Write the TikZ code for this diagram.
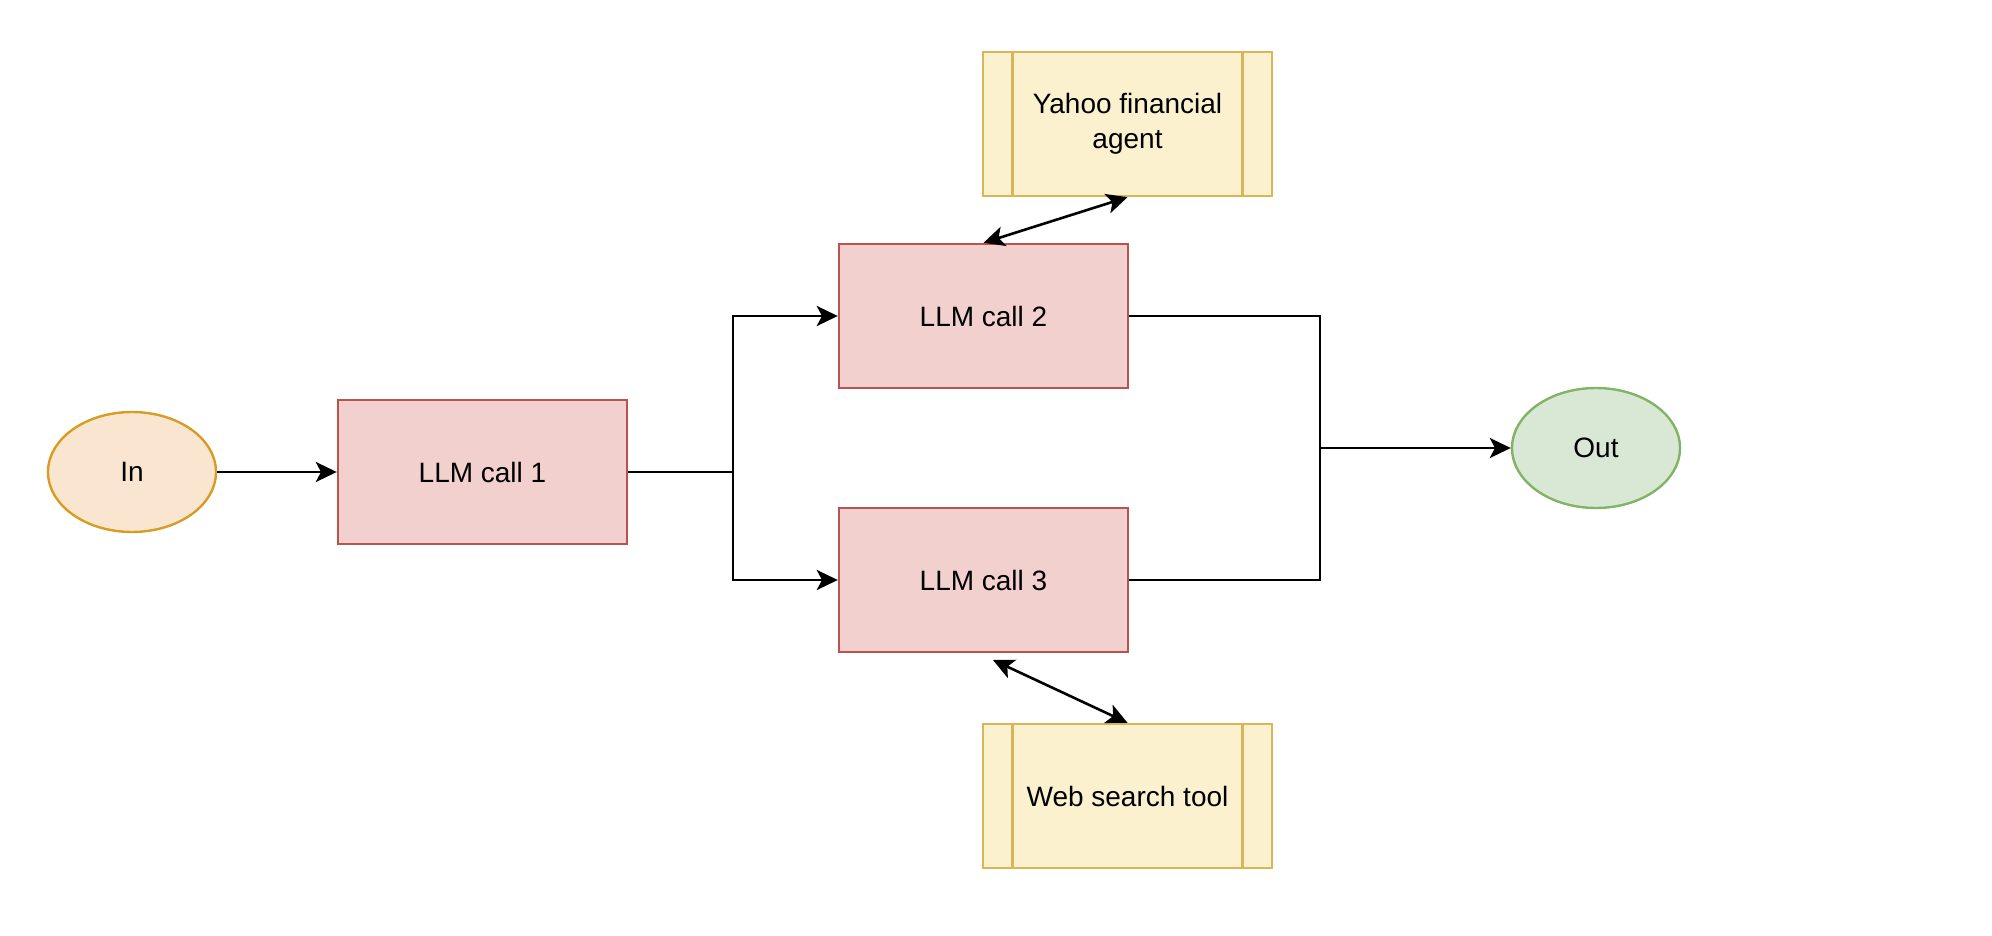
\documentclass[tikz,border=0pt]{standalone}
\usepackage{fontspec}
\setmainfont{Liberation Sans}
\usetikzlibrary{arrows.meta,shapes.geometric,calc}
\definecolor{inFill}{HTML}{FAE6D0}
\definecolor{inLine}{HTML}{D69D22}
\definecolor{llmFill}{HTML}{F2D0CE}
\definecolor{llmLine}{HTML}{B85450}
\definecolor{toolFill}{HTML}{FCF1CF}
\definecolor{toolLine}{HTML}{D6B656}
\definecolor{outFill}{HTML}{D9E7D5}
\definecolor{outLine}{HTML}{82B366}
\tikzset{
  lbl/.style={font=\fontsize{14pt}{17.5pt}\selectfont, text=black, align=center, inner sep=0pt},
  llmbox/.style={lbl, rectangle, draw=llmLine, fill=llmFill, line width=1.2pt,
    minimum width=144.5pt, minimum height=72pt},
  toolbox/.style={lbl, rectangle, draw=toolLine, fill=toolFill, line width=1.2pt,
    minimum width=144.5pt, minimum height=72pt,
    path picture={
      \draw[toolLine, line width=1.2pt]
        ([xshift=14.8pt]path picture bounding box.north west) -- ([xshift=14.8pt]path picture bounding box.south west)
        ([xshift=-14.8pt]path picture bounding box.north east) -- ([xshift=-14.8pt]path picture bounding box.south east);
    }},
  termin/.style={lbl, ellipse, line width=1.2pt, minimum width=84pt, minimum height=60pt},
  conn/.style={line width=1.3pt, draw=black},
  arr/.style={conn, -{Stealth[length=10.5pt, width=10pt, inset=2.6pt]}},
  darr/.style={conn, {Stealth[length=10.5pt, width=10pt, inset=2.6pt]}-{Stealth[length=10.5pt, width=10pt, inset=2.6pt]}},
}
\begin{document}
\begin{tikzpicture}[x=0.5pt, y=-0.5pt]
  \useasboundingbox (0,0) rectangle (1992,936);
  \node[termin, draw=inLine, fill=inFill] (in) at (132,472) {In};
  \node[llmbox] (l1) at (482.5,472) {LLM call 1};
  \node[llmbox] (l2) at (983.5,316) {LLM call 2};
  \node[llmbox] (l3) at (983.5,580) {LLM call 3};
  \node[toolbox] (yahoo) at (1127.5,124) {Yahoo financial\\agent};
  \node[toolbox] (web) at (1127.5,796) {Web search tool};
  \node[termin, draw=outLine, fill=outFill] (out) at (1596,448) {Out};
  \coordinate (j1) at (733,472);
  \coordinate (j2) at (1320,448);
  \coordinate (l3tip) at (993,660);

  \draw[arr] (in) -- (l1);
  \draw[conn] (l1.east) -- (j1);
  \draw[arr] (j1) |- (l2.west);
  \draw[arr] (j1) |- (l3.west);
  \draw[conn] (l2.east) -| (j2) |- (l3.east);
  \draw[arr] (j2) -- (out.west);
  \draw[darr] (l2.north) -- (yahoo.south);
  \draw[darr] (l3tip) -- (web.north);
\end{tikzpicture}
\end{document}
